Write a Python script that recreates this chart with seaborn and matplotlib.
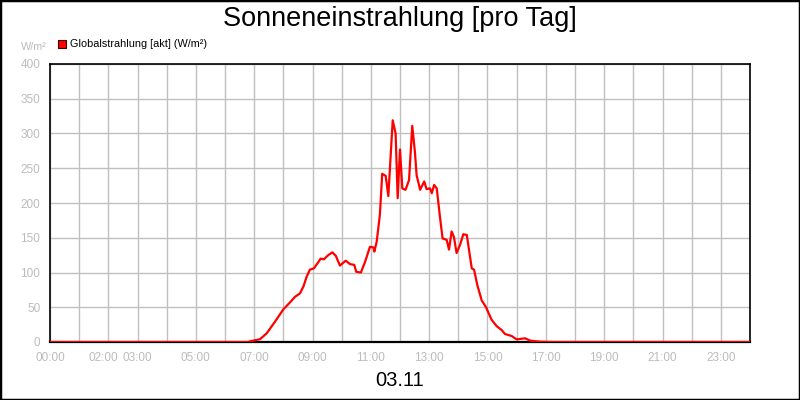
import matplotlib
matplotlib.use("Agg")
import matplotlib.pyplot as plt
import matplotlib.transforms as mtransforms
import seaborn as sns
import pandas as pd

# ---- data ----
hours = [0, 6.8, 6.86, 7.2, 7.43, 7.71, 8.0, 8.23, 8.4, 8.57, 8.69, 8.8, 8.91, 9.05,
         9.2, 9.28, 9.39, 9.54, 9.68, 9.8, 9.94, 10.14, 10.29, 10.43, 10.5, 10.66,
         10.8, 10.97, 11.09, 11.12, 11.2, 11.31, 11.39, 11.51, 11.6, 11.75, 11.85,
         11.92, 12.0, 12.08, 12.19, 12.31, 12.42, 12.51, 12.57, 12.69, 12.83, 12.91,
         13.03, 13.09, 13.17, 13.26, 13.37, 13.46, 13.6, 13.68, 13.77, 13.85, 13.94,
         14.06, 14.17, 14.29, 14.46, 14.54, 14.65, 14.8, 14.95, 15.14, 15.31, 15.49,
         15.6, 15.83, 16.0, 16.29, 16.46, 16.8, 17.2, 24.0]
radiation = [0, 0, 1, 4, 12.5, 29, 47, 57, 65, 70, 80, 94, 104, 106,
             115, 120, 119, 125, 129, 124, 110, 117, 112, 111, 101, 100,
             115, 137, 136, 130, 144, 183, 242, 239, 210, 319, 300,
             207, 277, 221, 219, 233, 311, 274, 240, 219, 231, 220,
             221, 214, 226, 221, 180, 149, 147, 133, 159, 151, 128,
             140, 155, 154, 106, 104, 82, 60, 50, 32, 23, 17,
             11.5, 8.6, 3.8, 5.3, 2, 0.5, 0, 0]
tick_hours = list(range(0, 25))
labeled_hours = [0, 2, 3, 5, 7, 9, 11, 13, 15, 17, 19, 21, 23]
y_ticks = [0, 50, 100, 150, 200, 250, 300, 350, 400]
title = "Sonneneinstrahlung [pro Tag]"
date_label = "03.11"
series_name = "Globalstrahlung [akt] (W/m²)"
unit_label = "W/m²"

df = pd.DataFrame({"hour": hours, "value": radiation})

sns.set_style("white")
plt.rcParams["font.family"] = ["Liberation Sans", "DejaVu Sans"]

fig = plt.figure(figsize=(8, 4), dpi=100)
ax = fig.add_axes([50 / 800, 58 / 400, 700 / 800, 278 / 400])

sns.lineplot(data=df, x="hour", y="value", color="#ff0000", linewidth=1.6, ax=ax,
             legend=False, zorder=3)

gray = "#bcbcbc"
ax.set_xlim(0, 24)
ax.set_ylim(0, 400)
ax.set_xticks(tick_hours)
ax.set_xticklabels([f"{h:02d}:00" if h in labeled_hours else "" for h in tick_hours])
ax.set_yticks(y_ticks)
ax.set_yticklabels([str(v) for v in y_ticks])
ax.grid(True, color="#c0c0c0", linewidth=1.0, zorder=0)
ax.set_axisbelow(True)
for s in ax.spines.values():
    s.set_color("black")
    s.set_linewidth(1.2)
ax.spines["bottom"].set_linewidth(1.6)
ax.tick_params(axis="both", which="both", direction="out", length=5, width=1,
               color=gray, labelcolor=gray, labelsize=8.5, pad=2)
ax.set_xlabel("")
ax.set_ylabel("")

# nudge the crowded 02:00 label left, as in the original
shift = mtransforms.ScaledTranslation(-5 / 100, 0, fig.dpi_scale_trans)
lbl = ax.get_xticklabels()[2]
lbl.set_transform(lbl.get_transform() + shift)

fig.text(0.5, 1 - 19 / 400, title, ha="center", va="center", fontsize=19.5, color="black")
fig.text(0.5, 1 - 381 / 400, date_label, ha="center", va="center", fontsize=14.5, color="black")
fig.text(47 / 800, 1 - 47 / 400, unit_label, ha="right", va="center", fontsize=7.8, color=gray)

# legend marker + text
fig.patches.append(plt.Rectangle((58 / 800, 1 - 48 / 400), 8 / 800, 8 / 400,
                                 transform=fig.transFigure, facecolor="#ff0000",
                                 edgecolor="#400000", linewidth=0.8))
fig.text(70 / 800, 1 - 44 / 400, series_name, ha="left", va="center", fontsize=7.8,
         color="black")

# outer border
fig.patches.append(plt.Rectangle((0, 0), 1, 1, transform=fig.transFigure, fill=False,
                                 edgecolor="black", linewidth=2.5))

fig.savefig("out.png", dpi=100)
